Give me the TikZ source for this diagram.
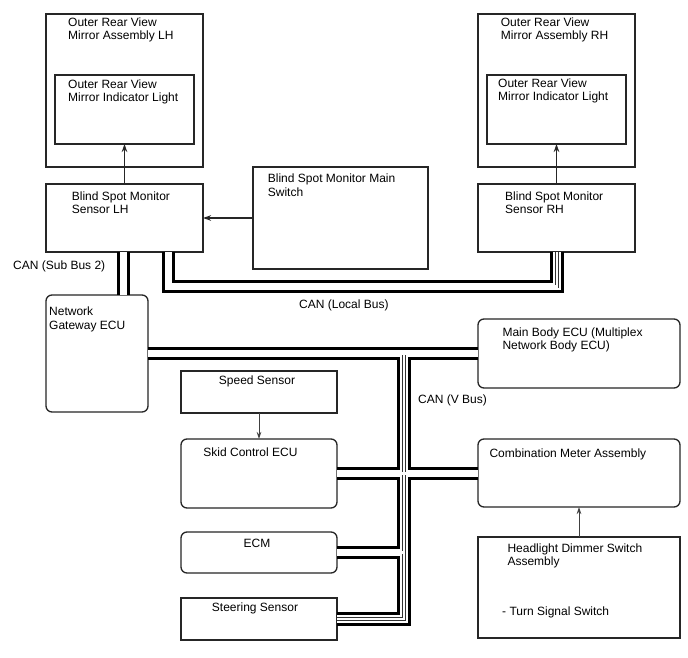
\documentclass[tikz,border=0pt]{standalone}
\usepackage{fontspec}
\setmainfont{Liberation Sans}
\usetikzlibrary{arrows.meta}
\begin{document}
\begin{tikzpicture}[x=1pt,y=-1pt,
  blk/.style={draw=black!85, line width=1.3pt, fill=white, inner sep=0pt, outer sep=0pt, anchor=north west},
  rblk/.style={blk, rounded corners=6pt},
  txt/.style={anchor=base west, inner sep=0pt, align=left, font=\fontsize{12pt}{13.5pt}\selectfont},
  ctxt/.style={anchor=base, inner sep=0pt, font=\fontsize{12pt}{13.5pt}\selectfont},
  arr/.style={draw=black!85, line width=1.3pt, -{Stealth[length=8pt,width=5.5pt]}},
  tarr/.style={draw=black!75, line width=0.9pt, -{Stealth[length=7pt,width=4.5pt]}}
]
\fill[white] (0,0) rectangle (688,658);
\useasboundingbox (0,0) rectangle (688,658);

% boxes
\node[blk, minimum width=157pt, minimum height=153pt] (mlh) at (46,14) {};
\node[blk, minimum width=139pt, minimum height=69pt] (ilh) at (55,75) {};
\node[blk, minimum width=157pt, minimum height=153pt] (mrh) at (478,14) {};
\node[blk, minimum width=139pt, minimum height=69pt] (irh) at (487,75) {};
\node[blk, minimum width=157pt, minimum height=68pt] (bsl) at (46,184) {};
\node[blk, minimum width=175pt, minimum height=102pt] (bsm) at (253,167) {};
\node[blk, minimum width=157pt, minimum height=68pt] (bsr) at (478,184) {};
\node[rblk, minimum width=102pt, minimum height=117pt] (ngw) at (46,295) {};
\node[blk, minimum width=156pt, minimum height=42pt] (spd) at (181,371) {};
\node[rblk, minimum width=156pt, minimum height=69pt] (skd) at (181,439) {};
\node[rblk, minimum width=156pt, minimum height=41pt] (ecm) at (181,532) {};
\node[blk, minimum width=156pt, minimum height=42pt] (str) at (181,598) {};
\node[rblk, minimum width=202pt, minimum height=69pt] (mbe) at (478,319) {};
\node[rblk, minimum width=202pt, minimum height=68pt] (cmb) at (478,439) {};
\node[blk, minimum width=202pt, minimum height=101pt] (hds) at (478,537) {};

% bus reference coordinates
\coordinate (sbx) at (123.5,0);
\coordinate (lbl) at (168.5,286.5);
\coordinate (lbr) at (557,286.5);
\coordinate (vx) at (404,0);
\coordinate (vy) at (0,353.5);

% CAN buses (thick / thin / thin / thick)
\foreach \w/\c in {13.5/black, 7.8/white, 3.9/black!80, 2.4/white}{
  \draw[line width=\w pt, draw=\c, line cap=butt, line join=miter]
    (bsl.south -| sbx) -- (ngw.north -| sbx)
    (bsl.south -| lbl) -- (lbl) -- (lbr) -- (bsr.south -| lbr)
    (ngw.east |- vy) -- (mbe.west |- vy)
    (vx |- vy) -- (vx |- str.east) -- (str.east)
    (skd.east) -- (cmb.west |- skd.east)
    (ecm.east) -- (vx |- ecm.east);
}

% arrows
\draw[arr] (bsl.north) -- (ilh.south);
\draw[arr] (bsr.north) -- (irh.south);
\draw[arr] (bsm.west) -- (bsl.east);
\draw[tarr] (spd.south) -- (skd.north);
\draw[tarr] (hds.north) -- (cmb.south);

% texts (anchor = baseline of last line)
\node[txt] (tmlh) at (68,40) {Outer Rear View\\Mirror Assembly LH};
\node[txt] (tilh) at (68,102) {Outer Rear View\\Mirror Indicator Light};
\node[txt] (tmrh) at (500.7,40) {Outer Rear View\\Mirror Assembly RH};
\node[txt] (tirh) at (498,101) {Outer Rear View\\Mirror Indicator Light};
\node[txt] (tbsl) at (71.7,213.5) {Blind Spot Monitor\\Sensor LH};
\node[txt] (tbsm) at (267.7,196.5) {Blind Spot Monitor Main\\Switch};
\node[txt] (tbsr) at (505,213.5) {Blind Spot Monitor\\Sensor RH};
\node[txt] (tngw) at (49,329) {Network\\Gateway ECU};
\node[ctxt] (tspd) at (257,384) {Speed Sensor};
\node[ctxt] (tskd) at (250.5,456.7) {Skid Control ECU};
\node[ctxt] (tecm) at (257,547) {ECM};
\node[ctxt] (tstr) at (255,611) {Steering Sensor};
\node[txt] (tmbe) at (502.3,349.5) {Main Body ECU (Multiplex\\Network Body ECU)};
\node[txt] (tcmb) at (489.3,457) {Combination Meter Assembly};
\node[txt] (thds) at (507.3,565.5) {Headlight Dimmer Switch\\Assembly};
\node[txt] (tturn) at (502,615) {- Turn Signal Switch};
\node[txt] (lsb) at (13,269) {CAN (Sub Bus 2)};
\node[txt] (llb) at (299,308) {CAN (Local Bus)};
\node[txt] (lvb) at (418,403) {CAN (V Bus)};
\end{tikzpicture}
\end{document}
